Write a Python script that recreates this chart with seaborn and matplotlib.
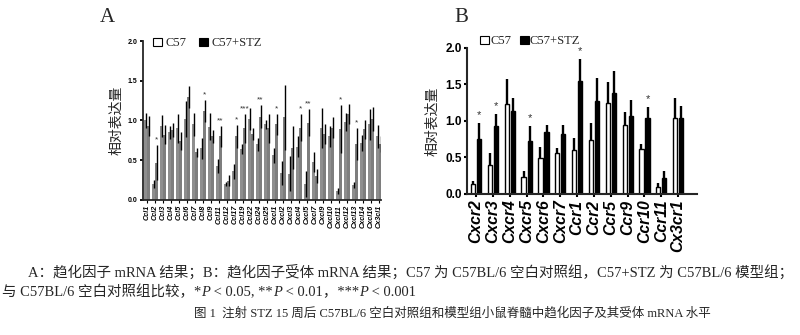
import numpy as np
import pandas as pd
import matplotlib
matplotlib.use("Agg")
import matplotlib.pyplot as plt
from matplotlib.patches import Patch
import seaborn as sns

# ---- chemokines (panel A) ----
chemokines = ["Ccl1", "Ccl2", "Ccl3", "Ccl4", "Ccl5", "Ccl6", "Ccl7", "Ccl8", "Ccl9", "Ccl11",
              "Ccl12", "Ccl17", "Ccl19", "Ccl22", "Ccl24", "Ccl25", "Cxcl1", "Cxcl2", "Cxcl3",
              "Cxcl4", "Cxcl5", "Cxcl7", "Cxcl9", "Cxcl10", "Cxcl11", "Cxcl12", "Cxcl13",
              "Cxcl14", "Cxcl16", "Cx3cl1"]
a_c57_mean = [1.00, 0.20, 0.93, 0.85, 0.90, 1.02, 0.95, 0.65, 0.92, 0.43,
              0.20, 0.36, 0.64, 1.02, 0.70, 0.95, 0.56, 0.34, 0.33,
              0.67, 0.20, 0.48, 0.91, 0.80, 0.11, 0.98, 0.19, 0.72, 0.95, 0.80]
a_c57_sd = [0.10, 0.05, 0.14, 0.08, 0.18, 0.23, 0.15, 0.13, 0.17, 0.09,
            0.03, 0.09, 0.06, 0.14, 0.08, 0.06, 0.10, 0.15, 0.22,
            0.13, 0.16, 0.13, 0.25, 0.13, 0.04, 0.11, 0.04, 0.10, 0.20, 0.14]
a_stz_mean = [0.93, 0.47, 0.82, 0.88, 0.74, 1.30, 0.60, 1.12, 0.80, 0.80,
              0.24, 0.80, 0.90, 0.83, 1.05, 0.90, 0.95, 1.04, 0.66,
              0.91, 0.97, 0.30, 0.83, 0.91, 0.89, 1.08, 0.70, 0.89, 1.02, 0.70]
a_stz_sd = [0.13, 0.22, 0.12, 0.09, 0.11, 0.14, 0.06, 0.14, 0.08, 0.13,
            0.07, 0.14, 0.18, 0.08, 0.15, 0.18, 0.13, 0.41, 0.27,
            0.17, 0.17, 0.09, 0.13, 0.13, 0.30, 0.13, 0.20, 0.12, 0.15, 0.10]
a_sig = {"Ccl2": "*", "Ccl8": "*", "Ccl11": "**", "Ccl17": "*", "Ccl19": "***",
         "Ccl24": "**", "Cxcl1": "*", "Cxcl4": "*", "Cxcl5": "**", "Cxcl11": "*",
         "Cxcl13": "*"}

# ---- chemokine receptors (panel B) ----
receptors = ["Cxcr2", "Cxcr3", "Cxcr4", "Cxcr5", "Cxcr6", "Cxcr7", "Ccr1", "Ccr2", "Ccr5",
             "Ccr9", "Ccr10", "Ccr11", "Cx3cr1"]
b_c57_mean = [0.13, 0.40, 1.23, 0.23, 0.49, 0.56, 0.60, 0.74, 1.24, 0.945, 0.61, 0.10, 1.045]
b_c57_sd = [0.05, 0.16, 0.34, 0.09, 0.16, 0.07, 0.16, 0.23, 0.29, 0.175, 0.07, 0.05, 0.275]
b_stz_mean = [0.75, 0.93, 1.13, 0.73, 0.85, 0.82, 1.55, 1.27, 1.38, 1.07, 1.045, 0.22, 1.045]
b_stz_sd = [0.22, 0.17, 0.19, 0.20, 0.10, 0.13, 0.30, 0.32, 0.31, 0.22, 0.145, 0.09, 0.155]
b_sig = {"Cxcr2": "*", "Cxcr3": "*", "Cxcr5": "*", "Ccr1": "*", "Ccr10": "*"}

groups = ["C57", "C57+STZ"]
yticks = [0.0, 0.5, 1.0, 1.5, 2.0]
ylabel = "相对表达量"

sns.set_theme(style="ticks")
plt.rcParams["font.family"] = ["Liberation Serif", "Noto Sans CJK SC", "DejaVu Sans"]

SANS = ["Liberation Sans", "DejaVu Sans"]
CJK = ["Noto Sans CJK SC"]
SERIF_CJK = ["Liberation Serif", "Noto Sans CJK SC"]


def long_table(genes, m1, s1, m2, s2):
    return pd.DataFrame({
        "gene": genes * 2,
        "group": [groups[0]] * len(genes) + [groups[1]] * len(genes),
        "mean": m1 + m2,
        "sd": s1 + s2,
    })


def style_axis(ax, tick_fs, lw):
    sns.despine(ax=ax)
    ax.spines["left"].set_linewidth(lw)
    ax.spines["bottom"].set_linewidth(lw)
    ax.set_ylim(0, 2.0)
    ax.set_yticks(yticks)
    ax.set_yticklabels([f"{v:.1f}" for v in yticks], fontsize=tick_fs,
                       fontweight="bold", family=SANS)
    ax.tick_params(axis="both", length=2.5, width=lw, colors="black", pad=1.5)
    ax.set_xlabel("")
    ax.set_ylabel("")


def legend_handles():
    return [Patch(facecolor="white", edgecolor="black", lw=0.8, label=groups[0]),
            Patch(facecolor="black", edgecolor="black", lw=0.8, label=groups[1])]


fig = plt.figure(figsize=(8.0, 3.35), dpi=100)
fig.patch.set_facecolor("white")

# ---------------- panel A ----------------
dfa = long_table(chemokines, a_c57_mean, a_c57_sd, a_stz_mean, a_stz_sd)
axA = fig.add_axes([0.179, 0.403, 0.2975, 0.4746])
sns.barplot(data=dfa, x="gene", y="mean", hue="group", order=chemokines, hue_order=groups,
            palette={"C57": "#8e8e8e", "C57+STZ": "#7e7e7e"}, errorbar=None,
            width=0.82, gap=0.1, linewidth=0, legend=False, ax=axA)
for cont, (m, s) in zip(axA.containers, [(a_c57_mean, a_c57_sd), (a_stz_mean, a_stz_sd)]):
    xs = [p.get_x() + p.get_width() * 0.62 for p in cont]
    axA.vlines(xs, np.array(m) - np.array(s), np.array(m) + np.array(s),
               color="black", lw=1.0, zorder=3)
xs_stz = [p.get_x() + p.get_width() / 2 for p in axA.containers[1]]
for i, g in enumerate(chemokines):
    if g in a_sig:
        axA.text(xs_stz[i], a_stz_mean[i] + a_stz_sd[i] + 0.02, a_sig[g], ha="center",
                 va="bottom", fontsize=6, family=SANS, color="#333333")
axA.set_xlim(-0.46, 29.3)
style_axis(axA, 5, 1.3)
axA.set_xticks(range(len(chemokines)))
axA.set_xticklabels(chemokines, rotation=90, fontsize=5.2, fontweight="bold",
                    fontstyle="italic", family=SANS)
axA.tick_params(axis="x", length=2, width=0.8)
axA.legend(handles=legend_handles(), loc="upper left", bbox_to_anchor=(0.02, 1.055),
           ncol=2, frameon=False, fontsize=9, handlelength=0.7, handleheight=0.7,
           handletextpad=0.3, columnspacing=1.0, borderaxespad=0)
axA.set_ylabel(ylabel, family=CJK, fontsize=10, labelpad=3)

# ---------------- panel B ----------------
dfb = long_table(receptors, b_c57_mean, b_c57_sd, b_stz_mean, b_stz_sd)
axB = fig.add_axes([0.584, 0.421, 0.2875, 0.4358])
sns.barplot(data=dfb, x="gene", y="mean", hue="group", order=receptors, hue_order=groups,
            palette={"C57": "white", "C57+STZ": "black"}, errorbar=None,
            width=0.72, gap=0.3, edgecolor="black", linewidth=1.0, legend=False, ax=axB)
for cont, (m, s) in zip(axB.containers, [(b_c57_mean, b_c57_sd), (b_stz_mean, b_stz_sd)]):
    xs = [p.get_x() + p.get_width() / 2 for p in cont]
    axB.vlines(xs, m, np.array(m) + np.array(s), color="black", lw=1.7, zorder=3)
xs_stz = [p.get_x() + p.get_width() / 2 for p in axB.containers[1]]
for i, g in enumerate(receptors):
    if g in b_sig:
        axB.text(xs_stz[i], b_stz_mean[i] + b_stz_sd[i] + 0.04, b_sig[g], ha="center",
                 va="bottom", fontsize=8, family=SANS, color="#333333")
axB.set_xlim(-0.53, 13.13)
style_axis(axB, 8.5, 1.5)
axB.set_xticks(range(len(receptors)))
axB.set_xticklabels(receptors, rotation=90, fontsize=11.3, fontweight="bold",
                    fontstyle="italic", family=SANS)
axB.legend(handles=legend_handles(), loc="upper left", bbox_to_anchor=(0.035, 1.12),
           ncol=2, frameon=False, fontsize=9, handlelength=0.7, handleheight=0.7,
           handletextpad=0.1, columnspacing=0.7, borderaxespad=0)
axB.set_ylabel(ylabel, family=CJK, fontsize=10, labelpad=4)

# panel letters
fig.text(107 / 800, 1 - 18 / 335, "A", fontsize=15, ha="center", va="center")
fig.text(461 / 800, 1 - 18 / 335, "B", fontsize=15, ha="center", va="center")

# ---------------- caption ----------------
fig.canvas.draw()
renderer = fig.canvas.get_renderer()

line1 = ("A：趋化因子 mRNA 结果；B：趋化因子受体 mRNA 结果；C57 为 C57BL/6 空白对照组，"
         "C57+STZ 为 C57BL/6 模型组；")

# size the first caption line so it fills the text block (28 px .. 790 px)
probe = fig.text(0, 0, line1, fontsize=10, family=SERIF_CJK)
w10 = probe.get_window_extent(renderer=renderer).width
probe.remove()
cap_fs = 10 * (790 - 28) / w10

fig.text(28 / 800, 1 - 272 / 335, line1, fontsize=cap_fs, va="center", ha="left",
         family=SERIF_CJK)


def text_runs(x, y, parts, fs):
    for s, kw in parts:
        t = fig.text(x, y, s, fontsize=fs, va="center", ha="left", **kw)
        x += t.get_window_extent(renderer=renderer).width / fig.bbox.width


ital = dict(family=["Liberation Serif"], fontstyle="italic")
plain = dict(family=SERIF_CJK)
text_runs(2 / 800, 1 - 292 / 335,
          [("与 C57BL/6 空白对照组比较，*", plain), ("P", ital), (" < 0.05, **", plain),
           ("P", ital), (" < 0.01，***", plain), ("P", ital), (" < 0.001", plain)], cap_fs)
fig.text(452 / 800, 1 - 313 / 335,
         "图 1  注射 STZ 15 周后 C57BL/6 空白对照组和模型组小鼠脊髓中趋化因子及其受体 mRNA 水平",
         fontsize=9.0, ha="center", va="center", family=SERIF_CJK)

fig.savefig("out.png", dpi=100, facecolor="white")
